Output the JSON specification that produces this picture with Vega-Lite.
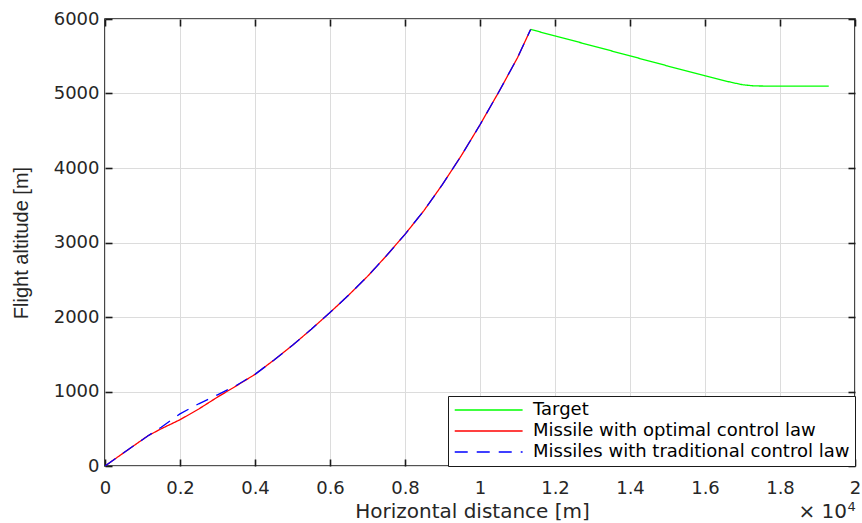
{
  "$schema": "https://vega.github.io/schema/vega-lite/v6.json",
  "autosize": "none",
  "width": 750,
  "height": 447,
  "padding": {"left": 105, "top": 19, "right": 7, "bottom": 57},
  "background": "white",
  "config": {
    "font": "DejaVu Sans",
    "view": {"stroke": "#1a1a1a", "strokeWidth": 1.6},
    "axis": {
      "labelFont": "DejaVu Sans",
      "titleFont": "DejaVu Sans",
      "labelColor": "#262626",
      "titleColor": "#262626",
      "labelFontSize": 18,
      "titleFontSize": 20,
      "titleFontWeight": "normal",
      "labelFlush": false,
      "domain": false,
      "tickColor": "#1a1a1a",
      "tickWidth": 1.6,
      "tickSize": -7,
      "gridColor": "#dcdcdc",
      "gridWidth": 1
    },
    "legend": {
      "orient": "bottom-right",
      "offset": 0,
      "padding": 5,
      "rowPadding": 3,
      "fillColor": "white",
      "strokeColor": "#1a1a1a",
      "strokeWidth": 1,
      "labelFont": "DejaVu Sans",
      "labelFontSize": 18,
      "labelColor": "#000000",
      "symbolType": "M-1.5,0L12.5,0",
      "symbolSize": 94,
      "symbolStrokeWidth": 1.3,
      "labelOffset": 62,
      "title": null,
      "labelLimit": 400
    }
  },
  "datasets": {
    "traj": [
      {"series": "Target", "x": 11350, "y": 5860},
      {"series": "Target", "x": 12000, "y": 5773},
      {"series": "Target", "x": 13000, "y": 5640},
      {"series": "Target", "x": 14000, "y": 5505},
      {"series": "Target", "x": 15000, "y": 5370},
      {"series": "Target", "x": 16000, "y": 5238},
      {"series": "Target", "x": 16400, "y": 5186},
      {"series": "Target", "x": 16700, "y": 5150},
      {"series": "Target", "x": 17000, "y": 5118},
      {"series": "Target", "x": 17300, "y": 5102},
      {"series": "Target", "x": 17600, "y": 5100},
      {"series": "Target", "x": 19300, "y": 5100},
      {"series": "Missile with optimal control law", "x": 0, "y": 0},
      {"series": "Missile with optimal control law", "x": 500, "y": 178},
      {"series": "Missile with optimal control law", "x": 1150, "y": 407},
      {"series": "Missile with optimal control law", "x": 1500, "y": 500},
      {"series": "Missile with optimal control law", "x": 2000, "y": 621},
      {"series": "Missile with optimal control law", "x": 2500, "y": 765},
      {"series": "Missile with optimal control law", "x": 3000, "y": 925},
      {"series": "Missile with optimal control law", "x": 3500, "y": 1075},
      {"series": "Missile with optimal control law", "x": 4000, "y": 1230},
      {"series": "Missile with optimal control law", "x": 4500, "y": 1420},
      {"series": "Missile with optimal control law", "x": 5000, "y": 1620},
      {"series": "Missile with optimal control law", "x": 5500, "y": 1835},
      {"series": "Missile with optimal control law", "x": 6000, "y": 2060},
      {"series": "Missile with optimal control law", "x": 6500, "y": 2295},
      {"series": "Missile with optimal control law", "x": 7000, "y": 2545},
      {"series": "Missile with optimal control law", "x": 7500, "y": 2820},
      {"series": "Missile with optimal control law", "x": 8000, "y": 3110},
      {"series": "Missile with optimal control law", "x": 8500, "y": 3425},
      {"series": "Missile with optimal control law", "x": 9000, "y": 3780},
      {"series": "Missile with optimal control law", "x": 9500, "y": 4165},
      {"series": "Missile with optimal control law", "x": 10000, "y": 4580},
      {"series": "Missile with optimal control law", "x": 10500, "y": 5020},
      {"series": "Missile with optimal control law", "x": 11000, "y": 5480},
      {"series": "Missile with optimal control law", "x": 11350, "y": 5860},
      {"series": "Missiles with traditional control law", "x": 0, "y": 0},
      {"series": "Missiles with traditional control law", "x": 500, "y": 178},
      {"series": "Missiles with traditional control law", "x": 1150, "y": 407},
      {"series": "Missiles with traditional control law", "x": 1500, "y": 520},
      {"series": "Missiles with traditional control law", "x": 2000, "y": 700},
      {"series": "Missiles with traditional control law", "x": 2500, "y": 835},
      {"series": "Missiles with traditional control law", "x": 3000, "y": 955},
      {"series": "Missiles with traditional control law", "x": 3500, "y": 1080},
      {"series": "Missiles with traditional control law", "x": 4000, "y": 1230},
      {"series": "Missiles with traditional control law", "x": 4500, "y": 1420},
      {"series": "Missiles with traditional control law", "x": 5000, "y": 1620},
      {"series": "Missiles with traditional control law", "x": 5500, "y": 1835},
      {"series": "Missiles with traditional control law", "x": 6000, "y": 2060},
      {"series": "Missiles with traditional control law", "x": 6500, "y": 2295},
      {"series": "Missiles with traditional control law", "x": 7000, "y": 2545},
      {"series": "Missiles with traditional control law", "x": 7500, "y": 2820},
      {"series": "Missiles with traditional control law", "x": 8000, "y": 3110},
      {"series": "Missiles with traditional control law", "x": 8500, "y": 3425},
      {"series": "Missiles with traditional control law", "x": 9000, "y": 3780},
      {"series": "Missiles with traditional control law", "x": 9500, "y": 4165},
      {"series": "Missiles with traditional control law", "x": 10000, "y": 4580},
      {"series": "Missiles with traditional control law", "x": 10500, "y": 5020},
      {"series": "Missiles with traditional control law", "x": 11000, "y": 5480},
      {"series": "Missiles with traditional control law", "x": 11350, "y": 5860}
    ]
  },
  "resolve": {"axis": {"x": "independent", "y": "independent"}},
  "layer": [
    {
      "data": {"name": "traj"},
      "mark": {"type": "line", "strokeWidth": 1.3, "clip": true},
      "encoding": {
        "x": {
          "field": "x", "type": "quantitative",
          "scale": {"domain": [0, 20000], "nice": false, "zero": false},
          "axis": {
            "orient": "bottom",
            "values": [0, 2000, 4000, 6000, 8000, 10000, 12000, 14000, 16000, 18000, 20000],
            "labelExpr": "datum.value / 10000",
            "labelPadding": 20,
            "title": "Horizontal distance [m]",
            "titlePadding": 4,
            "titleX": 367
          }
        },
        "y": {
          "field": "y", "type": "quantitative",
          "scale": {"domain": [0, 6000], "nice": false, "zero": false},
          "axis": {
            "orient": "left",
            "values": [0, 1000, 2000, 3000, 4000, 5000, 6000],
            "format": "d",
            "labelPadding": 13,
            "title": "Flight altitude [m]",
            "titleFont": "Liberation Sans",
            "titleFontSize": 20,
            "titlePadding": 22
          }
        },
        "color": {
          "field": "series", "type": "nominal",
          "scale": {
            "domain": ["Target", "Missile with optimal control law", "Missiles with traditional control law"],
            "range": ["#00ff00", "#ff0000", "#0000ff"]
          },
          "legend": {"title": null}
        },
        "strokeDash": {
          "field": "series", "type": "nominal",
          "scale": {
            "domain": ["Target", "Missile with optimal control law", "Missiles with traditional control law"],
            "range": [[1, 0], [1, 0], [13, 9]]
          },
          "legend": {"title": null}
        }
      }
    },
    {
      "data": {"values": [{"label": "× 10", "x": 19787, "y": -620}]},
      "mark": {"type": "text", "align": "right", "baseline": "middle", "font": "DejaVu Sans", "fontSize": 20, "color": "#262626", "clip": false},
      "encoding": {
        "text": {"field": "label"},
        "x": {
          "field": "x", "type": "quantitative",
          "scale": {"domain": [0, 20000], "nice": false, "zero": false},
          "axis": {
            "orient": "top",
            "values": [0, 2000, 4000, 6000, 8000, 10000, 12000, 14000, 16000, 18000, 20000],
            "labels": false, "grid": false, "title": null
          }
        },
        "y": {
          "field": "y", "type": "quantitative",
          "scale": {"domain": [0, 6000], "nice": false, "zero": false},
          "axis": {
            "orient": "right",
            "values": [0, 1000, 2000, 3000, 4000, 5000, 6000],
            "labels": false, "grid": false, "title": null
          }
        }
      }
    },
    {
      "data": {"values": [{"label": "4", "x": 19800, "y": -545}]},
      "mark": {"type": "text", "align": "left", "baseline": "middle", "font": "DejaVu Sans", "fontSize": 13, "color": "#262626", "clip": false},
      "encoding": {
        "text": {"field": "label"},
        "x": {"field": "x", "type": "quantitative", "scale": {"domain": [0, 20000], "nice": false, "zero": false}, "axis": null},
        "y": {"field": "y", "type": "quantitative", "scale": {"domain": [0, 6000], "nice": false, "zero": false}, "axis": null}
      }
    }
  ]
}
